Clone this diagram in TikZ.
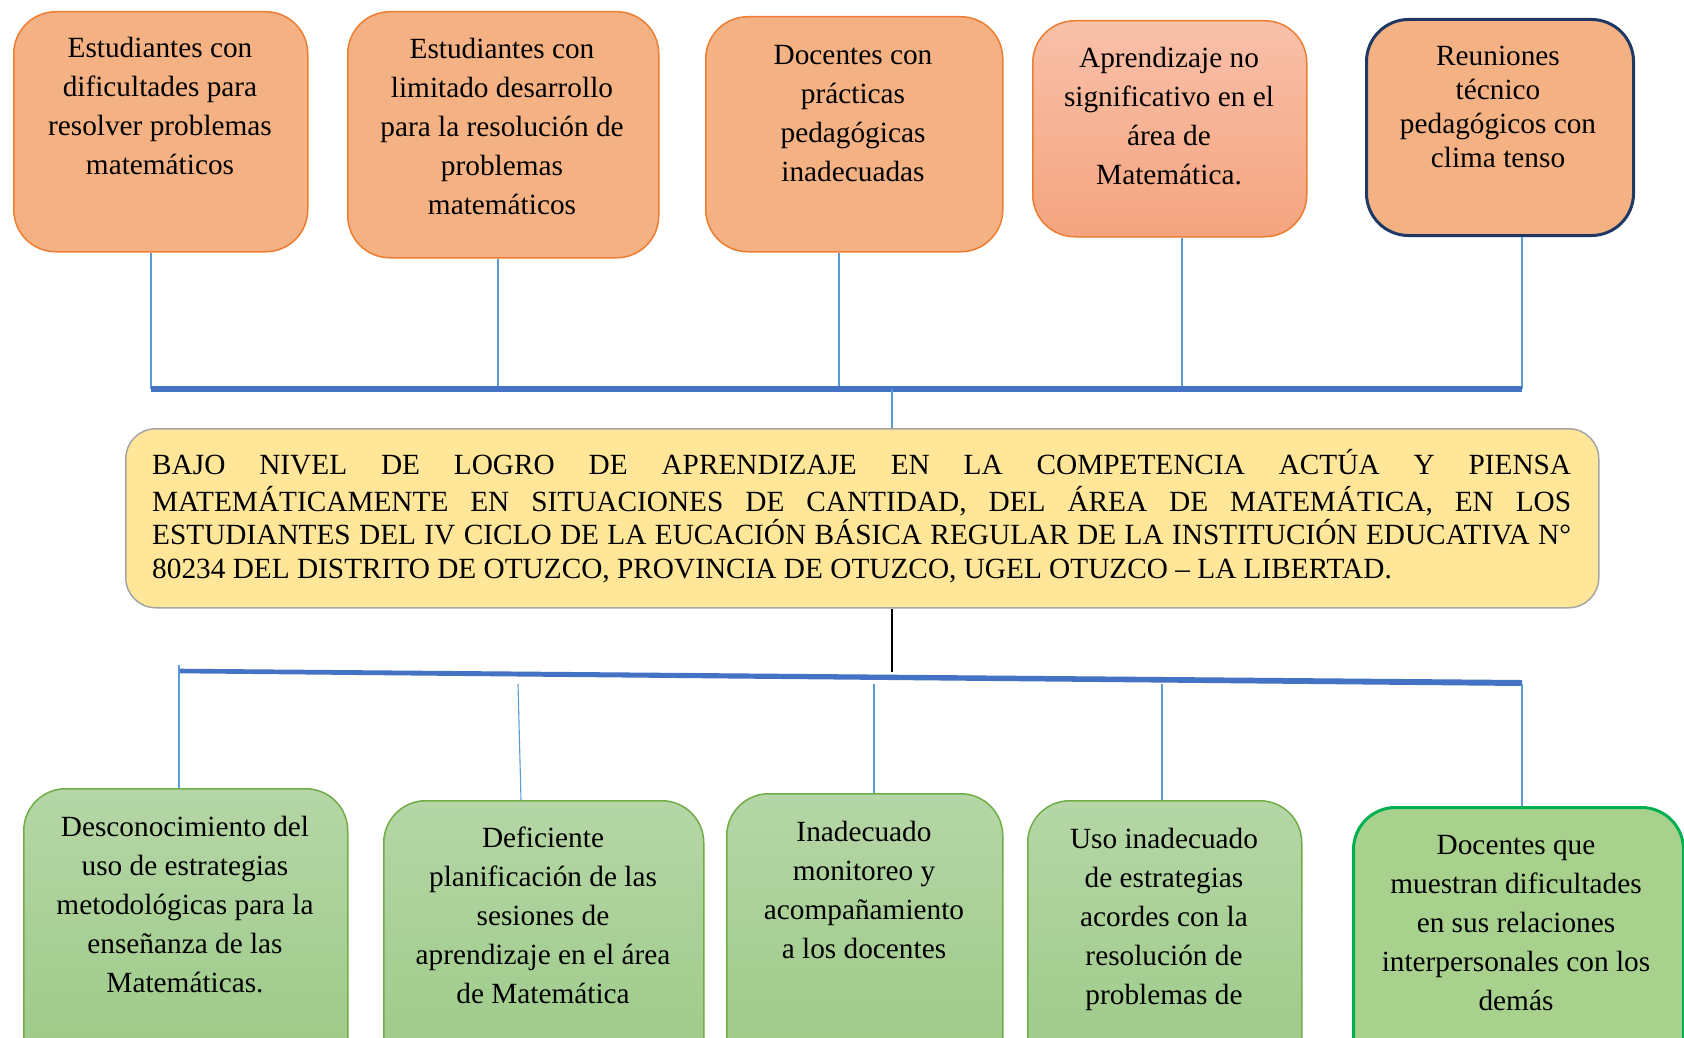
\documentclass[tikz,border=0pt]{standalone}
\usepackage{fontspec}
\setmainfont{Liberation Serif}
\usetikzlibrary{calc,shadings}
\definecolor{orfill}{HTML}{F4B183}
\definecolor{ordraw}{HTML}{ED7D31}
\definecolor{ortop}{HTML}{F8C0A9}
\definecolor{orbot}{HTML}{F4A47F}
\definecolor{navy}{HTML}{203864}
\definecolor{yfill}{HTML}{FFE699}
\definecolor{ydraw}{HTML}{A5A5A5}
\definecolor{gtop}{HTML}{B5D6A6}
\definecolor{gbot}{HTML}{9BC985}
\definecolor{gdraw}{HTML}{70AD47}
\definecolor{gdark}{HTML}{00B050}
\definecolor{gfive}{HTML}{A9D18E}
\definecolor{thinc}{HTML}{5B9BD5}
\definecolor{busc}{HTML}{4472C4}
\begin{document}
\begin{tikzpicture}[x=1pt,y=-1pt,
 box/.style={rounded corners=42pt, anchor=north west, inner sep=0pt, line width=1.5pt},
 topbox/.style={box, fill=orfill, draw=ordraw},
 botbox/.style={box, draw=gdraw, top color=gtop, bottom color=gbot},
 txt/.style={anchor=north, align=center, inner sep=0pt, font=\fontsize{29.3}{39}\selectfont},
 txtb/.style={anchor=north, align=center, inner sep=0pt, font=\fontsize{29.3}{34}\selectfont},
 thinline/.style={draw=thinc, line width=1.1pt},
 busline/.style={draw=busc, line width=5.5pt},
]
\useasboundingbox (0,0) rectangle (1684,1038);
\clip (0,0) rectangle (1684,1038);

% top boxes
\node[topbox, minimum width=294pt, minimum height=240pt] (T1) at (13,11) {};
\node[topbox, minimum width=311pt, minimum height=246pt] (T2) at (347,11) {};
\node[topbox, minimum width=297pt, minimum height=235pt] (T3) at (705,16) {};
\node[box, draw=ordraw, top color=ortop, bottom color=orbot, minimum width=274pt, minimum height=216pt] (T4) at (1032,20) {};
\node[box, fill=orfill, draw=navy, line width=3pt, minimum width=267pt, minimum height=216pt] (T5) at (1365,18) {};

\node[txt] (T1t) at (160,29.7) {\strut Estudiantes con\\dificultades para\\resolver problemas\\matemáticos};
\node[txt] (T2t) at (502,30.7) {\strut Estudiantes con\\limitado desarrollo\\para la resolución de\\problemas\\matemáticos};
\node[txt] (T3t) at (853,36.7) {\strut Docentes con\\prácticas\\pedagógicas\\inadecuadas};
\node[txt] (T4t) at (1169,39.7) {\strut Aprendizaje no\\significativo en el\\área de\\Matemática.};
\node[txtb] (T5t) at (1498,41.2) {\strut Reuniones\\técnico\\pedagógicos con\\clima tenso};

% central box
\node[box, fill=yfill, draw=ydraw, rounded corners=30pt, minimum width=1473pt, minimum height=179pt] (C) at (125,428) {};
\node[anchor=north west, inner sep=0pt, text width=1419pt, align=justify, font=\fontsize{29.3}{33.6}\selectfont] (Ct) at (152,449.5)
 {\hyphenpenalty=10000\strut BAJO NIVEL DE LOGRO DE APRENDIZAJE EN LA COMPETENCIA ACTÚA Y PIENSA\linebreak MATEMÁTICAMENTE EN SITUACIONES DE CANTIDAD, DEL ÁREA DE MATEMÁTICA, EN LOS\linebreak ESTUDIANTES DEL IV CICLO DE LA EUCACIÓN BÁSICA REGULAR DE LA INSTITUCIÓN EDUCATIVA N°\linebreak 80234 DEL DISTRITO DE OTUZCO, PROVINCIA DE OTUZCO, UGEL OTUZCO – LA LIBERTAD.};

% bottom boxes
\node[botbox, minimum width=324pt, minimum height=300pt] (U1) at (23,788) {};
\node[botbox, minimum width=320pt, minimum height=300pt] (U2) at (383,800) {};
\node[botbox, minimum width=276pt, minimum height=300pt] (U3) at (726,793) {};
\node[botbox, minimum width=274pt, minimum height=300pt] (U4) at (1027,800) {};
\node[box, fill=gfive, draw=gdark, line width=3pt, minimum width=330pt, minimum height=300pt] (U5) at (1352,806) {};

\node[txt] (U1t) at (185,808.7) {\strut Desconocimiento del\\uso de estrategias\\metodológicas para la\\enseñanza de las\\Matemáticas.};
\node[txt] (U2t) at (543,819.7) {\strut Deficiente\\planificación de las\\sesiones de\\aprendizaje en el área\\de Matemática};
\node[txt] (U3t) at (864,813.7) {\strut Inadecuado\\monitoreo y\\acompañamiento\\a los docentes};
\node[txt] (U4t) at (1164,820.7) {\strut Uso inadecuado\\de estrategias\\acordes con la\\resolución de\\problemas de};
\node[txt] (U5t) at (1516,826.7) {\strut Docentes que\\muestran dificultades\\en sus relaciones\\interpersonales con los\\demás};

% top connectors
\coordinate (a1) at (151,389);
\coordinate (a2) at (498,389);
\coordinate (a3) at (839,389);
\coordinate (a4) at (1182,389);
\coordinate (a5) at (1522,389);
\coordinate (am) at (892,389);
\draw[thinline] (T1.south -| a1) -- (a1);
\draw[thinline] (T2.south -| a2) -- (a2);
\draw[thinline] (T3.south -| a3) -- (a3);
\draw[thinline] (T4.south -| a4) -- (a4);
\draw[thinline] (T5.south -| a5) -- (a5);
\draw[busline] (a1) -- (a5);
\draw[thinline] (am) -- (C.north -| am);

% bottom connectors
\coordinate (bl) at (179,671);
\coordinate (br) at (1522,683);
\coordinate (bm) at (892,672);
\draw[black, line width=2pt] (C.south -| bm) -- (bm);
\fill[busc] ($(bl)+(0,-2.3)$) -- ($(br)+(0,-3)$) -- ($(br)+(0,3)$) -- ($(bl)+(0,2.3)$) -- cycle;
\coordinate (b1) at (179,665);
\coordinate (b2) at (518,684);
\coordinate (b3) at (874,684);
\coordinate (b4) at (1162,684);
\coordinate (b5) at (1522,684);
\draw[thinline] (b1) -- (U1.north -| b1);
\draw[thinline] (b2) -- ($(U2.north -| b2)+(3,0)$);
\draw[thinline] (b3) -- (U3.north -| b3);
\draw[thinline] (b4) -- (U4.north -| b4);
\draw[thinline] (b5) -- (U5.north -| b5);
\end{tikzpicture}
\end{document}
